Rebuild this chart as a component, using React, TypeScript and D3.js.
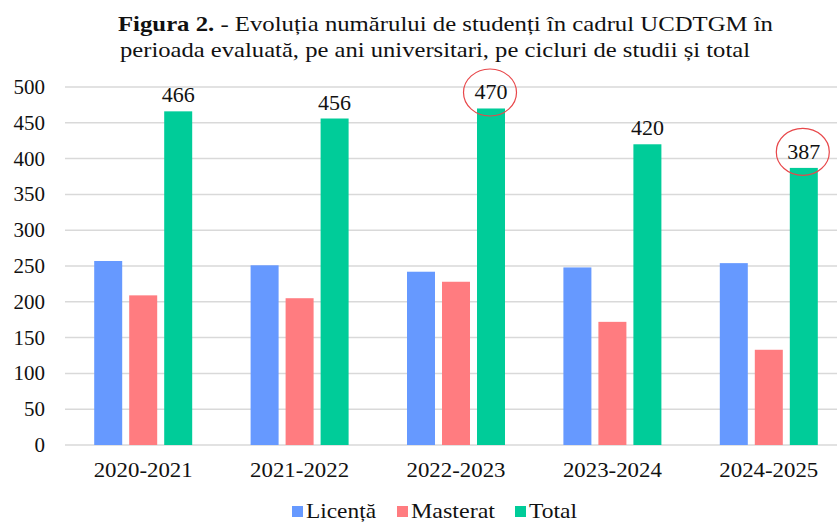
import React from 'react';
import * as d3 from 'd3';

const years = ['2020-2021', '2021-2022', '2022-2023', '2023-2024', '2024-2025'];
const licenta = [257, 251, 242, 248, 254];
const masterat = [209, 205, 228, 172, 133];
const total = [466, 456, 470, 420, 387];
const yTicks = [0, 50, 100, 150, 200, 250, 300, 350, 400, 450, 500];
const circled = ['2022-2023', '2024-2025'];

const seriesNames = ['Licență', 'Masterat', 'Total'];
const colors = ['#6699FF', '#FF7C80', '#00CC99'];

const App: React.FC = () => {
  const width = 837;
  const height = 522;
  const font = '"Liberation Serif", "Times New Roman", serif';

  // plot area
  const left = 65;
  const right = 847;
  const top = 87;
  const bottom = 445;

  const x = d3.scaleBand<string>().domain(years).range([left, right]);
  const y = d3.scaleLinear().domain([0, 500]).range([bottom, top]);

  const barW = 28;
  const gap = 7;
  const series = [licenta, masterat, total];

  return (
    <svg width={width} height={height} style={{ position: 'absolute', left: 0, top: 0, background: '#fff' }} fontFamily={font}>
      {/* title */}
      <text x={118} y={31} fontSize={22} fill="#111" textLength={655} lengthAdjust="spacingAndGlyphs">
        <tspan fontWeight="bold">Figura 2.</tspan>
        <tspan> - Evoluția numărului de studenți în cadrul UCDTGM în</tspan>
      </text>
      <text x={120} y={57} fontSize={22} fill="#111" textLength={630} lengthAdjust="spacingAndGlyphs">
        perioada evaluată, pe ani universitari, pe cicluri de studii și total
      </text>

      {/* gridlines */}
      {yTicks.map(t => (
        <line key={t} x1={left} x2={width} y1={y(t)} y2={y(t)} stroke="#d9d9d9" strokeWidth={1.5} />
      ))}

      {/* y labels */}
      {yTicks.map(t => (
        <text key={'l' + t} x={45} y={y(t) + 7} textAnchor="end" fontSize={21} fill="#111">
          {t}
        </text>
      ))}

      {/* bars */}
      {years.map((yr, i) => {
        const cx = (x(yr) as number) + x.bandwidth() / 2;
        const start = cx - (3 * barW + 2 * gap) / 2;
        return (
          <g key={yr}>
            {series.map((s, j) => (
              <rect
                key={j}
                x={start + j * (barW + gap)}
                y={y(s[i])}
                width={barW}
                height={bottom - y(s[i])}
                fill={colors[j]}
              />
            ))}
            <text
              x={start + 2 * (barW + gap) + barW / 2}
              y={y(total[i]) - 9}
              textAnchor="middle"
              fontSize={22}
              fill="#111"
            >
              {total[i]}
            </text>
            {circled.includes(yr) && (
              <ellipse
                cx={start + 2 * (barW + gap) + barW / 2 - 1}
                cy={y(total[i]) - 16}
                rx={26.5}
                ry={23.5}
                fill="none"
                stroke="#E8474A"
                strokeWidth={1.2}
              />
            )}
            <text
              x={cx - 49.5}
              y={477}
              fontSize={21.5}
              fill="#111"
              textLength={99}
              lengthAdjust="spacingAndGlyphs"
            >
              {yr}
            </text>
          </g>
        );
      })}

      {/* legend */}
      {seriesNames.map((n, i) => {
        const lx = [292, 397, 515][i];
        const tl = [70, 84, 48][i];
        return (
          <g key={n}>
            <rect x={lx} y={506} width={11} height={11} fill={colors[i]} />
            <text x={lx + 14} y={518} fontSize={22} fill="#111" textLength={tl} lengthAdjust="spacingAndGlyphs">
              {n}
            </text>
          </g>
        );
      })}
    </svg>
  );
};

export default App;
